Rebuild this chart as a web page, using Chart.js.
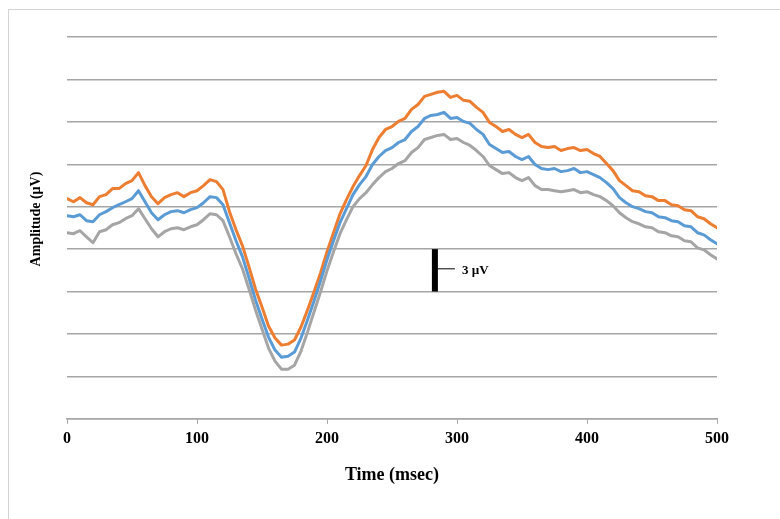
<!DOCTYPE html>
<html lang="en">
<head>
    <meta charset="UTF-8">
    <title>Amplitude vs Time</title>
    <script src="https://cdn.jsdelivr.net/npm/chart.js"></script>
    <style>
        html, body { margin: 0; padding: 0; background: #fff; }
        .frame {
            position: absolute; left: 8px; top: 9px; width: 800px; height: 560px;
            border-left: 1px solid #d4d4d4; border-top: 1px solid #d4d4d4;
        }
        .wrap { position: absolute; left: 0; top: 0; width: 780px; height: 519px; }
    </style>
</head>
<body>
    <div class="frame"></div>
    <div class="wrap"><canvas id="erp-chart"></canvas></div>

    <script>
// time axis (msec)
const times = [
    0, 5, 10, 15, 20, 25, 30, 35, 40, 45,
    50, 55, 60, 65, 70, 75, 80, 85, 90, 95,
    100, 105, 110, 115, 120, 125, 130, 135, 140, 145,
    150, 155, 160, 165, 170, 175, 180, 185, 190, 195,
    200, 205, 210, 215, 220, 225, 230, 235, 240, 245,
    250, 255, 260, 265, 270, 275, 280, 285, 290, 295,
    300, 305, 310, 315, 320, 325, 330, 335, 340, 345,
    350, 355, 360, 365, 370, 375, 380, 385, 390, 395,
    400, 405, 410, 415, 420, 425, 430, 435, 440, 445,
    450, 455, 460, 465, 470, 475, 480, 485, 490, 495,
    500
];

// amplitudes (µV)
const orangeWave = [
    0.57, 0.35, 0.64, 0.28, 0.14, 0.71, 0.85, 1.28, 1.28, 1.63,
    1.84, 2.41, 1.49, 0.71, 0.21, 0.64, 0.85, 0.99, 0.71, 0.99,
    1.13, 1.49, 1.91, 1.77, 1.21, -0.35, -1.63, -2.77, -4.26, -5.82,
    -7.09, -8.44, -9.29, -9.79, -9.72, -9.43, -8.51, -7.30, -6.03, -4.68,
    -3.19, -1.84, -0.50, 0.50, 1.42, 2.20, 2.91, 4.04, 4.89, 5.46,
    5.67, 6.03, 6.24, 6.88, 7.23, 7.80, 7.94, 8.09, 8.16, 7.73,
    7.87, 7.52, 7.45, 7.02, 6.67, 5.96, 5.67, 5.32, 5.46, 5.11,
    4.89, 5.11, 4.54, 4.26, 4.18, 4.26, 3.97, 4.11, 4.18, 3.97,
    4.04, 3.76, 3.55, 3.05, 2.55, 1.84, 1.49, 1.13, 1.06, 0.78,
    0.71, 0.43, 0.43, 0.14, 0.07, -0.21, -0.28, -0.71, -0.85, -1.21,
    -1.49
];
const blueWave = [
    -0.64, -0.71, -0.57, -0.99, -1.06, -0.57, -0.35, -0.07, 0.14, 0.35,
    0.57, 1.13, 0.35, -0.43, -0.92, -0.57, -0.35, -0.28, -0.43, -0.21,
    -0.07, 0.28, 0.71, 0.64, 0.14, -1.13, -2.41, -3.55, -5.04, -6.60,
    -7.94, -9.22, -10.14, -10.64, -10.57, -10.28, -9.29, -8.01, -6.67, -5.25,
    -3.76, -2.41, -1.13, -0.14, 0.85, 1.56, 2.13, 2.98, 3.55, 3.97,
    4.18, 4.54, 4.75, 5.32, 5.67, 6.24, 6.45, 6.52, 6.67, 6.24,
    6.31, 6.03, 5.89, 5.46, 5.11, 4.40, 4.11, 3.83, 3.90, 3.55,
    3.33, 3.55, 2.98, 2.70, 2.62, 2.70, 2.48, 2.55, 2.70, 2.41,
    2.48, 2.27, 2.06, 1.70, 1.28, 0.64, 0.28, 0.00, -0.14, -0.35,
    -0.43, -0.71, -0.78, -0.99, -1.06, -1.35, -1.42, -1.84, -1.99, -2.34,
    -2.62
];
const grayWave = [
    -1.84, -1.91, -1.70, -2.13, -2.55, -1.77, -1.63, -1.28, -1.13, -0.85,
    -0.64, -0.14, -0.85, -1.56, -2.13, -1.77, -1.56, -1.49, -1.63, -1.42,
    -1.28, -0.92, -0.50, -0.57, -0.99, -2.13, -3.33, -4.40, -5.82, -7.30,
    -8.65, -10.00, -10.92, -11.49, -11.49, -11.21, -10.21, -8.87, -7.45, -6.03,
    -4.54, -3.19, -1.91, -0.92, 0.00, 0.57, 0.99, 1.56, 2.06, 2.48,
    2.70, 3.05, 3.26, 3.83, 4.18, 4.75, 4.89, 5.04, 5.11, 4.75,
    4.82, 4.54, 4.33, 3.97, 3.55, 2.91, 2.62, 2.34, 2.41, 2.06,
    1.84, 2.06, 1.49, 1.21, 1.21, 1.13, 1.06, 1.13, 1.21, 0.99,
    1.06, 0.85, 0.71, 0.43, 0.07, -0.43, -0.78, -1.06, -1.21, -1.42,
    -1.49, -1.77, -1.84, -2.06, -2.13, -2.41, -2.48, -2.91, -3.05, -3.40,
    -3.69
];

// axis ranges
const xTicks = [0, 100, 200, 300, 400, 500];
const yMin = -15, yMax = 12, yStep = 3;

// calibration bar: 3 µV drawn at t = 283 ms
const calibTime = 283;
const calibFrom = -3, calibTo = -6;
const calibLabel = "3 µV";

const serif = "'Liberation Serif', 'DejaVu Serif', serif";

function toPoints(values) {
    return values.map((v, i) => ({ x: times[i], y: v }));
}

// axis titles + calibration bar
const decorations = {
    id: "decorations",
    afterDatasetsDraw(chart) {
        const { ctx, chartArea, scales } = chart;
        ctx.save();
        ctx.fillStyle = "#000";
        ctx.strokeStyle = "#000";

        const bx = scales.x.getPixelForValue(calibTime);
        const by1 = scales.y.getPixelForValue(calibFrom);
        const by2 = scales.y.getPixelForValue(calibTo);
        ctx.fillRect(bx - 3, by1, 6, by2 - by1);
        const mid = (by1 + by2) / 2;
        ctx.lineWidth = 1;
        ctx.beginPath();
        ctx.moveTo(bx + 3, mid - 1.5);
        ctx.lineTo(bx + 20, mid - 1.5);
        ctx.stroke();
        ctx.font = "bold 13px " + serif;
        ctx.textAlign = "left";
        ctx.textBaseline = "middle";
        ctx.fillText(calibLabel, bx + 27, mid);

        ctx.textAlign = "center";
        ctx.font = "bold 18px " + serif;
        ctx.fillText("Time (msec)", (chartArea.left + chartArea.right) / 2, 475);

        ctx.font = "bold 14px " + serif;
        ctx.translate(36, 219);
        ctx.rotate(-Math.PI / 2);
        ctx.fillText("Amplitude (µV)", 0, 0);
        ctx.restore();
    }
};

new Chart(document.getElementById("erp-chart"), {
    type: "line",
    data: {
        datasets: [
            { label: "Series 3", data: toPoints(grayWave), borderColor: "#a5a5a5" },
            { label: "Series 2", data: toPoints(blueWave), borderColor: "#5b9bd5" },
            { label: "Series 1", data: toPoints(orangeWave), borderColor: "#ed7d31" }
        ]
    },
    options: {
        responsive: true,
        maintainAspectRatio: false,
        animation: false,
        events: [],
        layout: { padding: { left: 67, right: 63, top: 37, bottom: 66 } },
        elements: {
            line: { borderWidth: 3, tension: 0, borderCapStyle: "round", borderJoinStyle: "round" },
            point: { radius: 0 }
        },
        plugins: {
            legend: { display: false },
            tooltip: { enabled: false }
        },
        scales: {
            x: {
                type: "linear",
                min: 0,
                max: 500,
                afterBuildTicks: axis => { axis.ticks = xTicks.map(v => ({ value: v })); },
                grid: { drawOnChartArea: false, drawTicks: true, tickLength: 5, color: "#a6a6a6" },
                border: { color: "#a6a6a6", width: 1.5 },
                ticks: {
                    color: "#000",
                    padding: 5,
                    maxRotation: 0,
                    font: { family: serif, weight: "bold", size: 16 }
                }
            },
            y: {
                min: yMin,
                max: yMax,
                ticks: { display: false, stepSize: yStep },
                grid: { drawTicks: false, color: "#a6a6a6", lineWidth: 1.5 },
                border: { display: false }
            }
        }
    },
    plugins: [decorations]
});
    </script>
</body>
</html>
